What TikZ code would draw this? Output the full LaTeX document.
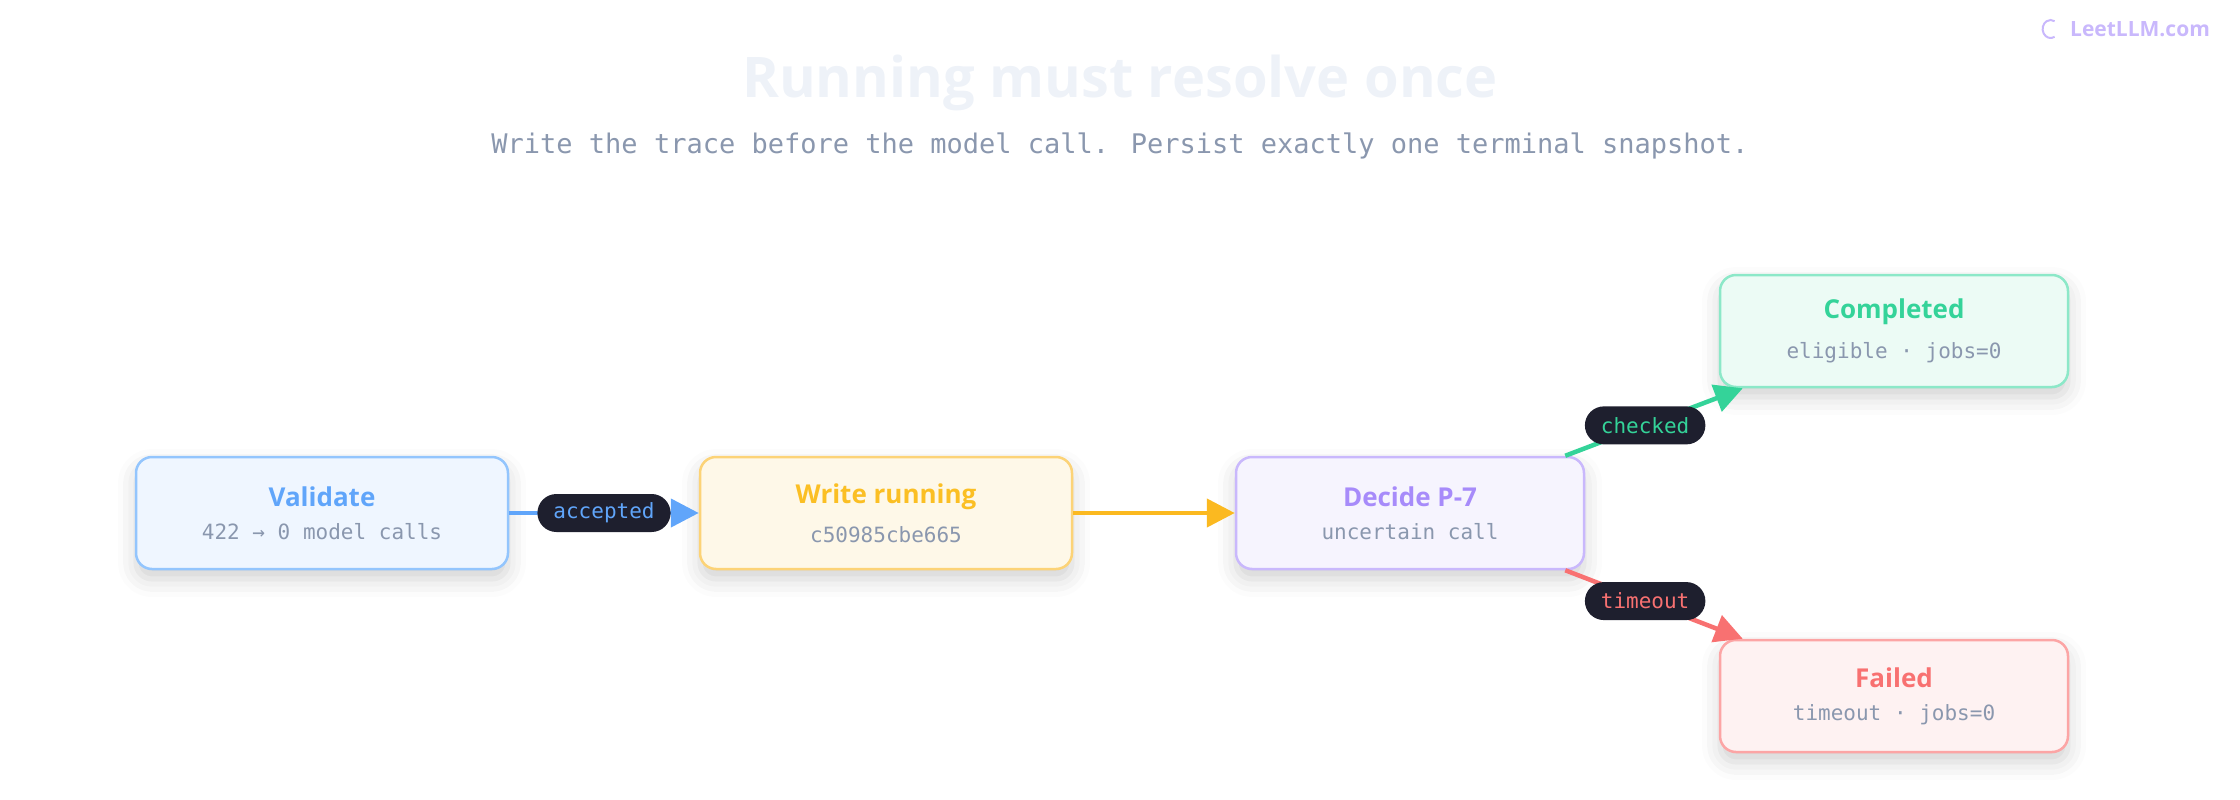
\documentclass[tikz,border=0pt]{standalone}
\usepackage{fontspec}
\setmainfont{Open Sans}
\newfontfamily\monof{DejaVu Sans Mono}
\usetikzlibrary{shadows.blur,arrows.meta}
\definecolor{bluet}{HTML}{60A5FA}\definecolor{bluef}{HTML}{EFF6FF}\definecolor{blueb}{HTML}{93C5FD}
\definecolor{yelt}{HTML}{FBBF24}\definecolor{yelf}{HTML}{FEF8E8}\definecolor{yelb}{HTML}{FCD377}
\definecolor{purt}{HTML}{A78BFA}\definecolor{purf}{HTML}{F6F4FE}\definecolor{purb}{HTML}{C9B8FC}
\definecolor{grnt}{HTML}{34D399}\definecolor{grnf}{HTML}{ECFBF5}\definecolor{grnb}{HTML}{8CE8C8}
\definecolor{redt}{HTML}{F87171}\definecolor{redf}{HTML}{FEF2F2}\definecolor{redb}{HTML}{FCA5A5}
\definecolor{subt}{HTML}{8A97AE}\definecolor{pill}{HTML}{1E1F2E}\definecolor{titlec}{HTML}{EEF2F8}
\tikzset{
  state/.style={draw=#1b, fill=#1f, line width=2.5pt, rounded corners=16pt,
    minimum width=372pt, minimum height=112pt, blur shadow={shadow xshift=0pt, shadow yshift=-10pt, shadow blur radius=18pt, shadow opacity=18}},
  pilllab/.style={fill=pill, rounded corners=19pt, text=#1, font=\monof\fontsize{21}{24}\selectfont, minimum height=38pt, inner xsep=16pt},
  edge/.style={draw=#1, line width=4.5pt, -{Triangle[length=28pt,width=28pt]}},
}
\newcommand\statetext[3]{\textcolor{#1}{\fontsize{26}{30}\selectfont\bfseries #2}\\[16pt]{\monof\fontsize{21}{24}\selectfont\textcolor{subt}{#3}}}
\begin{document}
\begin{tikzpicture}[x=1pt,y=1pt,yscale=-1]
\useasboundingbox (0,0) rectangle (2240,800);
\node[font=\fontsize{56}{60}\selectfont\bfseries, text=titlec] (title) at (1120,83) {Running must resolve once};
\node[font=\monof\fontsize{27}{30}\selectfont, text=subt] (subtitle) at (1120,146) {Write the trace before the model call. Persist exactly one terminal snapshot.};
\node[font=\fontsize{21}{24}\selectfont\bfseries, text=purb] (logo) at (2140,29) {LeetLLM.com};
\draw[purb, line width=2pt] (logo.west) ++(-12,7.8) arc[start angle=60, end angle=300, x radius=8, y radius=9];

\node[state=blue, align=center] (validate) at (322,513) {\statetext{bluet}{Validate}{422 → 0 model calls}};
\node[state=yel, align=center] (write) at (886,513) {\statetext{yelt}{Write running}{c50985cbe665}};
\node[state=pur, align=center, minimum width=348pt] (decide) at (1410,513) {\statetext{purt}{Decide P-7}{uncertain call}};
\node[state=grn, align=center, minimum width=348pt] (completed) at (1894,331) {\statetext{grnt}{Completed}{eligible · jobs=0}};
\node[state=red, align=center, minimum width=348pt] (failed) at (1894,696) {\statetext{redt}{Failed}{timeout · jobs=0}};

\draw[edge=bluet] (validate) -- (write) node[midway, pilllab=bluet] {accepted};
\draw[edge=yelt!90!orange] (write) -- (decide);
\draw[edge=grnt] ([xshift=-20pt]decide.north east) -- ([xshift=24pt]completed.south west) node[pos=0.45, pilllab=grnt] {checked};
\draw[edge=redt] ([xshift=-20pt]decide.south east) -- ([xshift=24pt]failed.north west) node[pos=0.45, pilllab=redt] {timeout};
\end{tikzpicture}
\end{document}
